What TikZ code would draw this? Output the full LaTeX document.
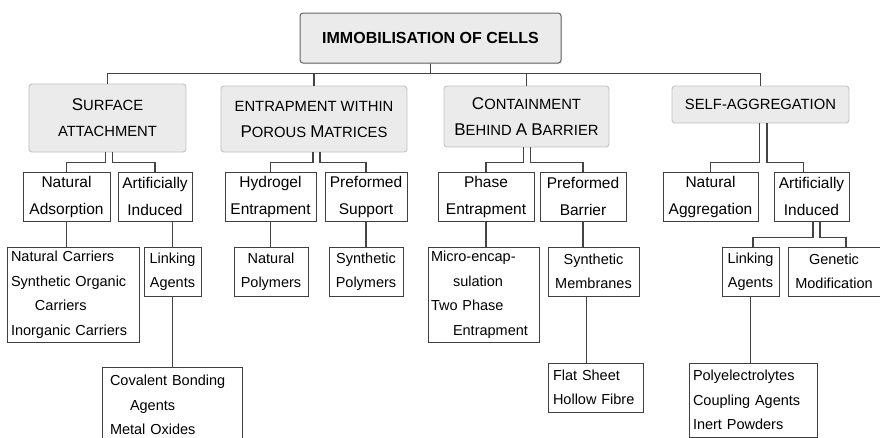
\documentclass[tikz,border=0pt]{standalone}
\usepackage{fontspec}
\setmainfont{Liberation Sans}
\usetikzlibrary{calc,shadows}
\definecolor{boxgray}{HTML}{EBEBEB}
\definecolor{edgegray}{HTML}{C2C2C2}
\definecolor{linegray}{HTML}{444444}
\newcommand{\Lg}[1]{{\fontsize{17}{26}\selectfont #1}}

\begin{document}
\begin{tikzpicture}[x=1pt,y=-1pt,
    topbox/.style={draw=black!60, fill=boxgray, rounded corners=3pt, line width=1pt, inner sep=0pt,
      drop shadow={shadow xshift=1.2pt, shadow yshift=-1.2pt, opacity=0.25},
      font=\fontsize{16}{20}\selectfont\bfseries},
    catbox/.style={draw=edgegray, fill=boxgray, rounded corners=3pt, line width=0.9pt, inner sep=0pt,
      align=center, font=\fontsize{14.8}{26}\selectfont},
    subbox/.style={draw=black!75, line width=1pt, inner sep=0pt, align=center,
      minimum height=49pt, font=\fontsize{15.5}{27}\selectfont},
    leafbox/.style={draw=black!75, line width=1pt, inner sep=0pt, align=center,
      minimum height=49pt, font=\fontsize{14.5}{24.5}\selectfont},
    listbox/.style={draw=black!75, line width=1pt, inner ysep=0pt, inner xsep=4pt, align=left,
      font=\fontsize{14.5}{24.5}\selectfont},
    link/.style={draw=linegray, line width=1.2pt}]

  \fill[white] (0,0) rectangle (880,437);
  \useasboundingbox (0,0) rectangle (880,437);

  % root
  \node[topbox, minimum width=261pt, minimum height=50pt] (top) at (430.5,38) {IMMOBILISATION OF CELLS};

  % categories
  \node[catbox, minimum width=157pt, minimum height=68pt] (sa) at (107.5,118)
    {\Lg{S}URFACE\\ATTACHMENT};
  \node[catbox, minimum width=186pt, minimum height=66pt] (ep) at (314,119)
    {ENTRAPMENT WITHIN\\\Lg{P}OROUS \Lg{M}ATRICES};
  \node[catbox, minimum width=165pt, minimum height=61pt] (cb) at (526.5,116.5)
    {\Lg{C}ONTAINMENT\\\Lg{B}EHIND \Lg{A} \Lg{B}ARRIER};
  \node[catbox, minimum width=177pt, minimum height=37pt] (sg) at (760.5,104.5)
    {SELF-AGGREGATION};

  % second level
  \node[subbox, minimum width=87pt] (na) at (66.5,196.5) {Natural\\Adsorption};
  \node[subbox, minimum width=74pt] (ai) at (155,196.5) {Artificially\\Induced};
  \node[subbox, minimum width=91pt] (hg) at (270.5,196.5) {Hydrogel\\Entrapment};
  \node[subbox, minimum width=82pt] (ps) at (366,196.5) {Preformed\\Support};
  \node[subbox, minimum width=96pt] (pe) at (486,196.5) {Phase\\Entrapment};
  \node[subbox, minimum width=86pt] (pb) at (583,196.5) {Preformed\\Barrier};
  \node[subbox, minimum width=95pt] (ng) at (710.5,196.5) {Natural\\Aggregation};
  \node[subbox, minimum width=75pt] (ai2) at (811.5,196.5) {Artificially\\Induced};

  % third level
  \node[listbox, text width=124pt, minimum height=95pt] (nc) at (73,294.5)
    {Natural Carriers\\Synthetic Organic\\\hspace*{24pt}Carriers\\Inorganic Carriers};
  \node[leafbox, minimum width=57pt] (la) at (172.5,271.5) {Linking\\Agents};
  \node[leafbox, minimum width=74pt] (np) at (271,271.5) {Natural\\Polymers};
  \node[leafbox, minimum width=74pt] (sp) at (366,271.5) {Synthetic\\Polymers};
  \node[listbox, inner xsep=3pt, text width=105pt, minimum height=95pt] (me) at (483.5,294.5)
    {Micro-encap-\\\hspace*{22pt}sulation\\Two Phase\\\hspace*{22pt}Entrapment};
  \node[leafbox, minimum width=91pt] (sm) at (593.5,271.5) {Synthetic\\Membranes};
  \node[leafbox, minimum width=57pt] (la2) at (750.5,271.5) {Linking\\Agents};
  \node[leafbox, minimum width=92pt] (gm) at (834,271.5) {Genetic\\Modification};

  % fourth level
  \node[listbox, inner xsep=8pt, text width=124pt, minimum height=76pt] (cv) at (172,405)
    {Covalent Bonding\\\hspace*{20pt}Agents\\Metal Oxides};
  \node[listbox, inner xsep=5pt, text width=85pt, minimum height=49pt] (fs) at (595.5,387.5)
    {Flat Sheet\\Hollow Fibre};
  \node[listbox, text width=120pt, minimum height=74pt] (pl) at (753,400)
    {Polyelectrolytes\\Coupling Agents\\Inert Powders};

  % root to categories
  \foreach \c in {sa,ep,cb,sg}
    \draw[link] (top.south) -- ++(0,10) -| (\c.north);

  % categories to second level
  \draw[link] ([xshift=-2pt]sa.south) |- ([yshift=9pt]na.north) -- (na.north);
  \draw[link] ([xshift=5pt]sa.south) |- ([yshift=9pt]ai.north) -- (ai.north);
  \draw[link] ([xshift=-1pt]ep.south) |- ([yshift=9pt]hg.north) -- (hg.north);
  \draw[link] ([xshift=6pt]ep.south) |- ([yshift=9pt]ps.north) -- (ps.north);
  \draw[link] ([xshift=-3pt]cb.south) |- ([yshift=9pt]pe.north) -- (pe.north);
  \draw[link] ([xshift=4pt]cb.south) |- ([yshift=9pt]pb.north) -- (pb.north);
  \draw[link] ([xshift=-1pt]sg.south) |- ([yshift=9pt]ng.north) -- (ng.north);
  \draw[link] ([xshift=6.5pt]sg.south) |- ([yshift=9pt,xshift=-8pt]ai2.north) -- ([xshift=-8pt]ai2.north);

  % second level to third level
  \draw[link] (na.south) -- (na.south |- nc.north);
  \draw[link] (la.north |- ai.south) -- (la.north);
  \draw[link] (hg.south) -- (hg.south |- np.north);
  \draw[link] (ps.south) -- (ps.south |- sp.north);
  \draw[link] (pe.south) -- (pe.south |- me.north);
  \draw[link] (pb.south) -- (pb.south |- sm.north);
  \draw[link] ([xshift=1.5pt]ai2.south) |- ([yshift=9pt,xshift=2.5pt]la2.north) -- ([xshift=2.5pt]la2.north);
  \draw[link] ([xshift=8.5pt]ai2.south) |- ([yshift=9pt,xshift=12pt]gm.north) -- ([xshift=12pt]gm.north);

  % third level to fourth level
  \draw[link] (la.south) -- (la.south |- cv.north);
  \draw[link] ([xshift=-7pt]sm.south) -- ([xshift=-7pt]sm.south |- fs.north);
  \draw[link] (la2.south) -- (la2.south |- pl.north);
\end{tikzpicture}
\end{document}
